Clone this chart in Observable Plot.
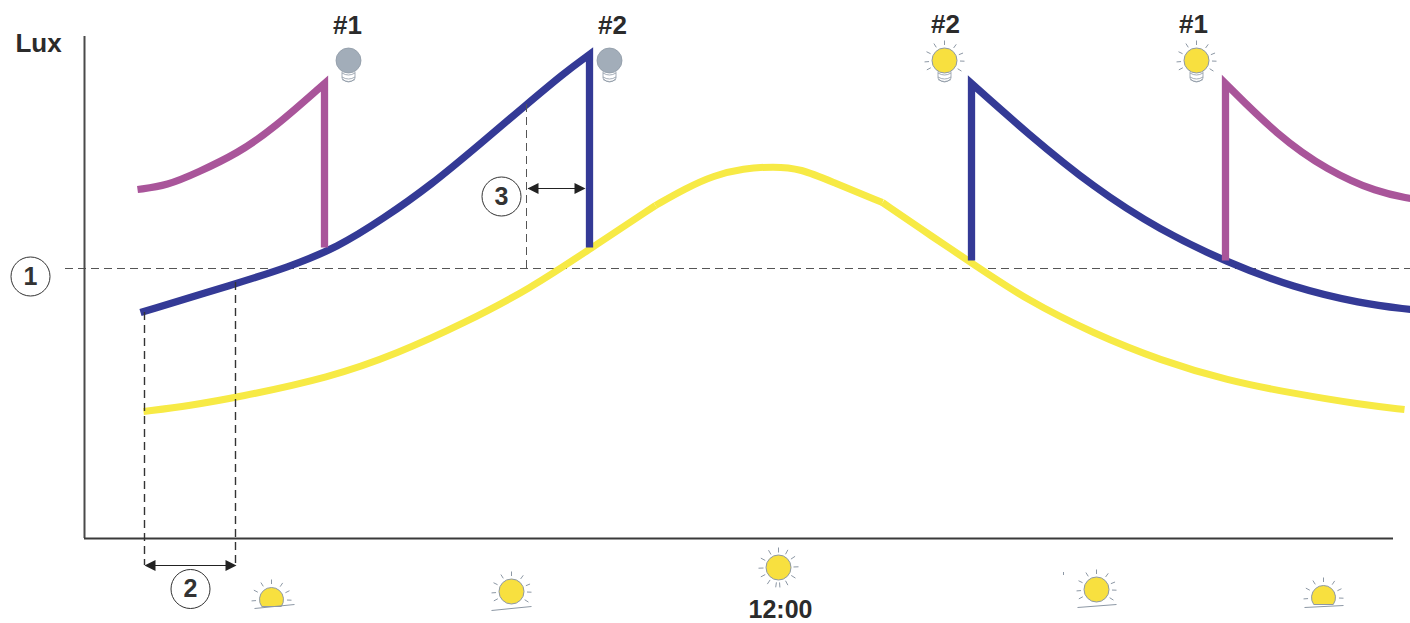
<!DOCTYPE html>
<html>
<head>
<meta charset="utf-8">
<style>html,body{margin:0;padding:0;background:#fff}svg{display:block}</style>
<script src="https://cdn.jsdelivr.net/npm/d3@7"></script>
<script src="https://cdn.jsdelivr.net/npm/@observablehq/plot@0.6"></script>
</head>
<body>
<script>
// Series: time position (unitless) and lux reading above the time axis
const yellowRiseT = [143,190,236,330,397,463,530,590,655];
const yellowRiseLux = [127,133,141,161,185,215,250,290,333];
const yellowTopT = [655,685,713,743,773,800,833,882];
const yellowTopLux = [333,350,363,370,372,370,356,336];
const yellowFallT = [882,933,972,1027,1093,1160,1227,1293,1360,1404];
const yellowFallLux = [336,301,275,238,205,178,158,145,134,129];
const blueRiseT = [140,236,287,337,383,430,480,525,563,589,589];
const blueRiseLux = [226,255,271,291,320,353,395,433,465,484,291];
const blueFallT = [1410,1360,1293,1227,1160,1093,1027,971,971];
const blueFallLux = [229,235,251,276,308,351,405,455,278];
const purpleRiseT = [137,167,197,237,273,324,324];
const purpleRiseLux = [349,353,366,385,410,455,291];
const purpleFallT = [1410,1377,1327,1277,1225,1225];
const purpleFallLux = [340,346,368,403,455,278];

const threshold = 270;
const timeSpan = [84, 1393];
const luxTop = 502;

const offBulbT = [348, 609];
const onBulbT = [944, 1196];
const bulbLux = 478;
const fullSunT = [778, 511, 1096];
const fullSunLux = [-29, -53, -51];
const lowSunT = [271, 1323];
const lowSunLux = [-61, -59];
const horizonT1 = [254, 491, 1077, 1304];
const horizonT2 = [294, 531, 1116, 1343];
const horizonLux1 = [-70, -72, -69, -69];
const horizonLux2 = [-66, -68, -66, -67];

const labels = ["Lux", "#1", "#2", "#2", "#1"];
const labelT = [38, 347, 612, 945, 1193];
const labelLux = [495, 513, 513, 514, 514];
const timeLabel = ["12:00"];
const timeLabelT = [780];
const timeLabelLux = [-71];
const numbers = ["1", "2", "3"];
const numberT = [30, 190, 501];
const numberLux = [262, -50.5, 342];

const blue = "#343a96", purple = "#a9559a", yellow = "#f7ea45", sunFill = "#f8e03f", grey = "#a2adb9", edge = "#8d98a5", ink = "#2b2b2b";

// Smooth curve through all points but the last, then a straight drop to it with a sharp corner
const curveThenDrop = (ctx) => {
  const inner = d3.curveBasis(ctx);
  let pts = [];
  return {
    lineStart() { pts = []; },
    point(x, y) { pts.push([x, y]); },
    lineEnd() {
      inner.lineStart();
      for (const [x, y] of pts.slice(0, -1)) inner.point(x, y);
      inner.lineEnd();
      const last = pts[pts.length - 1];
      ctx.lineTo(last[0], last[1]);
    }
  };
};

const raysSymbol = (angles, r0, r1) => ({
  draw(c) {
    for (const a of angles) {
      const t = a * Math.PI / 180;
      c.moveTo(r0 * Math.sin(t), -r0 * Math.cos(t));
      c.lineTo(r1 * Math.sin(t), -r1 * Math.cos(t));
    }
  }
});
const bulbRays = raysSymbol([0, 36, 68, 92, 122, -32, -64, -94, -118], 15.5, 20);
const noonRays = raysSymbol([0, 28, 56, 88, 122, 152, 176, -172, -146, -118, -92, -62, -30], 15, 20);
const lowRays = raysSymbol([0, 34, 64, 92, -32, -62, -94], 15.5, 20);
const halfDisc = {
  draw(c) {
    const r = 12, cut = 7, a = Math.asin(cut / r);
    c.arc(0, 0, r, Math.PI - a, 2 * Math.PI + a);
    c.closePath();
  }
};
const bulbBase = {
  draw(c) {
    for (const dy of [13.5, 17.5, 20]) {
      c.moveTo(-6.5, dy - 1);
      c.quadraticCurveTo(0, dy + 3, 6.5, dy - 1);
    }
    c.moveTo(-6.5, 11);
    c.lineTo(-6.5, 18);
    c.quadraticCurveTo(0, 25, 6.5, 18);
    c.lineTo(6.5, 11);
  }
};
const headRight = { draw(c) { c.moveTo(0, 0); c.lineTo(-11, -5.5); c.lineTo(-11, 5.5); c.closePath(); } };
const headLeft = { draw(c) { c.moveTo(0, 0); c.lineTo(11, -5.5); c.lineTo(11, 5.5); c.closePath(); } };

const curveLine = (x, y, stroke, strokeWidth, curve = curveThenDrop) => Plot.line(x, {
  x, y, stroke, strokeWidth, curve,
  strokeLinejoin: "miter", strokeLinecap: "butt", strokeMiterlimit: 10
});

const dash = (t, from, to, stroke, strokeWidth) => Plot.ruleX([t], {
  y1: from, y2: to, stroke, strokeWidth, strokeDasharray: "8,5"
});

const chart = Plot.plot({
  width: 1410,
  height: 623,
  margin: 0,
  style: { background: "#fff", fontFamily: "'Liberation Sans', Arial, sans-serif", overflow: "hidden" },
  x: { domain: [0, 1410], range: [0, 1410], axis: null },
  y: { domain: [-85, 538], range: [623, 0], axis: null },
  marks: [
    // guides
    Plot.ruleY([threshold], { x1: 65, x2: 1410, stroke: "#555", strokeWidth: 1, strokeDasharray: "8,5" }),
    // axes
    Plot.ruleX([timeSpan[0]], { y1: 0, y2: luxTop, stroke: "#4a4a4a", strokeWidth: 2 }),
    Plot.ruleY([0], { x1: timeSpan[0], x2: timeSpan[1], stroke: "#3a3a3a", strokeWidth: 2 }),
    // series
    curveLine(yellowRiseT, yellowRiseLux, yellow, 7, "basis"),
    curveLine(yellowTopT, yellowTopLux, yellow, 7, "basis"),
    curveLine(yellowFallT, yellowFallLux, yellow, 7, "basis"),
    curveLine(blueRiseT, blueRiseLux, blue, 7.3),
    curveLine(blueFallT, blueFallLux, blue, 7.3),
    curveLine(purpleRiseT, purpleRiseLux, purple, 7.3),
    curveLine(purpleFallT, purpleFallLux, purple, 7.3),
    // interval guides drawn over the series, as in the source
    dash(144, 226, -27, "#333", 1.4),
    dash(235, 256, -27, "#333", 1.4),
    dash(526, 434, threshold, "#555", 1),
    // interval arrows
    Plot.ruleY([-27], { x1: 146, x2: 235, stroke: "#222", strokeWidth: 1.2 }),
    Plot.dot([144], { x: d => d, y: () => -27, symbol: headLeft, fill: "#222", stroke: "none" }),
    Plot.dot([236], { x: d => d, y: () => -27, symbol: headRight, fill: "#222", stroke: "none" }),
    Plot.ruleY([350], { x1: 528, x2: 584, stroke: "#222", strokeWidth: 1.2 }),
    Plot.dot([527], { x: d => d, y: () => 350, symbol: headLeft, fill: "#222", stroke: "none" }),
    Plot.dot([585], { x: d => d, y: () => 350, symbol: headRight, fill: "#222", stroke: "none" }),
    // numbered circles
    Plot.dot(numbers, { x: numberT, y: numberLux, r: 19.5, fill: "#fff", stroke: "#333", strokeWidth: 1 }),
    Plot.text(numbers, { x: numberT, y: numberLux, text: d => d, fontSize: 25, fontWeight: "bold", fill: "#333" }),
    // lamps
    Plot.dot(offBulbT, { x: offBulbT, y: () => bulbLux, symbol: bulbBase, stroke: edge, strokeWidth: 0.8 }),
    Plot.dot(onBulbT, { x: onBulbT, y: () => bulbLux, symbol: bulbBase, stroke: edge, strokeWidth: 0.8 }),
    Plot.dot(offBulbT, { x: offBulbT, y: () => bulbLux, r: 12.5, fill: grey, stroke: edge, strokeWidth: 0.8 }),
    Plot.dot(onBulbT, { x: onBulbT, y: () => bulbLux, r: 12.5, fill: sunFill, stroke: edge, strokeWidth: 1 }),
    Plot.dot(onBulbT, { x: onBulbT, y: () => bulbLux, symbol: bulbRays, stroke: edge, strokeWidth: 1 }),
    // suns
    Plot.dot(fullSunT, { x: fullSunT, y: fullSunLux, r: 12.5, fill: sunFill, stroke: edge, strokeWidth: 1 }),
    Plot.dot([fullSunT[0]], { x: d => d, y: () => fullSunLux[0], symbol: noonRays, stroke: edge, strokeWidth: 1 }),
    Plot.dot(fullSunT.slice(1), { x: fullSunT.slice(1), y: fullSunLux.slice(1), symbol: bulbRays, stroke: edge, strokeWidth: 1 }),
    Plot.dot(lowSunT, { x: lowSunT, y: lowSunLux, symbol: halfDisc, fill: sunFill, stroke: edge, strokeWidth: 1 }),
    Plot.dot(lowSunT, { x: lowSunT, y: lowSunLux, symbol: lowRays, stroke: edge, strokeWidth: 1 }),
    Plot.link(horizonT1, { x1: horizonT1, x2: horizonT2, y1: horizonLux1, y2: horizonLux2, stroke: edge, strokeWidth: 1 }),
    Plot.ruleX([1063], { y1: -34, y2: -37, stroke: edge, strokeWidth: 1 }),
    // labels
    Plot.text(labels, { x: labelT, y: labelLux, text: d => d, fontSize: 26, fontWeight: "bold", fill: ink }),
    Plot.text(timeLabel, { x: timeLabelT, y: timeLabelLux, text: d => d, fontSize: 25, fontWeight: "bold", fill: ink })
  ]
});
document.body.append(chart);
</script>
</body>
</html>
